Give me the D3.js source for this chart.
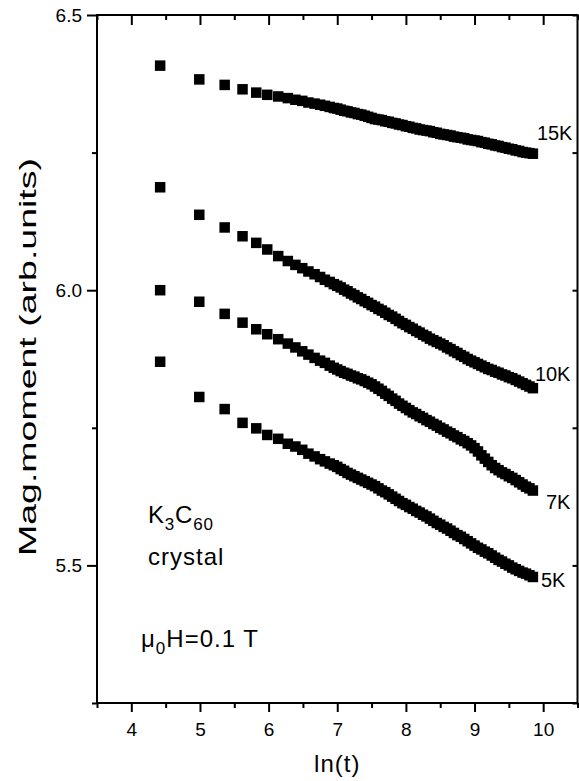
<!DOCTYPE html>
<html>
<head>
<meta charset="utf-8">
<script src="https://cdn.jsdelivr.net/npm/d3@7"></script>
<style>
    body { margin: 0; background: #fff; }
    text { font-family: "Liberation Sans", Arial, Helvetica, sans-serif; fill: #000; }
</style>
</head>
<body>
<svg id="chart" width="579" height="781"></svg>
<script>
// ln(t) of the measurement times, shared by all four temperatures
var lnT = [4.42, 4.99, 5.36, 5.62, 5.82, 5.98, 6.14, 6.28, 6.39, 6.49, 6.58, 6.67, 6.75, 6.82, 6.89, 6.95,
    7.00, 7.05, 7.10, 7.15, 7.20, 7.25, 7.30, 7.35, 7.40, 7.45, 7.50, 7.55, 7.60, 7.65, 7.70, 7.75, 7.80, 7.85, 7.90, 7.95,
    8.00, 8.05, 8.10, 8.15, 8.20, 8.25, 8.30, 8.35, 8.40, 8.45, 8.50, 8.55, 8.60, 8.65, 8.70, 8.75, 8.80, 8.85, 8.90, 8.95,
    9.00, 9.05, 9.10, 9.15, 9.20, 9.25, 9.30, 9.35, 9.40, 9.45, 9.50, 9.55, 9.60, 9.65, 9.70, 9.75, 9.80, 9.85];

var m15K = [6.408, 6.383, 6.373, 6.365, 6.359, 6.355, 6.352, 6.349, 6.346, 6.344, 6.341, 6.339, 6.337, 6.335, 6.333, 6.331,
    6.330, 6.328, 6.326, 6.325, 6.323, 6.322, 6.320, 6.319, 6.317, 6.315, 6.313, 6.311, 6.310, 6.309, 6.307, 6.306, 6.304, 6.303, 6.301, 6.300,
    6.298, 6.297, 6.295, 6.294, 6.292, 6.291, 6.290, 6.289, 6.287, 6.286, 6.284, 6.283, 6.282, 6.281, 6.279, 6.278, 6.277, 6.276, 6.274, 6.273,
    6.272, 6.271, 6.269, 6.268, 6.266, 6.265, 6.263, 6.262, 6.260, 6.259, 6.257, 6.256, 6.254, 6.253, 6.251, 6.250, 6.249, 6.248];

var m10K = [6.187, 6.137, 6.114, 6.098, 6.086, 6.074, 6.062, 6.053, 6.046, 6.040, 6.034, 6.029, 6.024, 6.019, 6.015, 6.011,
    6.008, 6.005, 6.001, 5.998, 5.994, 5.991, 5.987, 5.984, 5.980, 5.977, 5.973, 5.970, 5.966, 5.963, 5.959, 5.955, 5.952, 5.948, 5.944, 5.940,
    5.937, 5.933, 5.930, 5.926, 5.923, 5.919, 5.916, 5.912, 5.909, 5.906, 5.903, 5.900, 5.896, 5.893, 5.889, 5.886, 5.882, 5.879, 5.875, 5.872,
    5.869, 5.866, 5.863, 5.860, 5.857, 5.855, 5.852, 5.850, 5.847, 5.845, 5.842, 5.840, 5.837, 5.834, 5.831, 5.828, 5.825, 5.822];

var m7K = [6.000, 5.979, 5.957, 5.941, 5.929, 5.920, 5.911, 5.903, 5.896, 5.889, 5.883, 5.877, 5.872, 5.868, 5.863, 5.859,
    5.856, 5.853, 5.850, 5.848, 5.845, 5.843, 5.840, 5.838, 5.835, 5.832, 5.829, 5.825, 5.821, 5.817, 5.812, 5.808, 5.803, 5.799, 5.794, 5.790,
    5.786, 5.782, 5.778, 5.775, 5.771, 5.768, 5.764, 5.761, 5.757, 5.754, 5.750, 5.747, 5.743, 5.740, 5.736, 5.733, 5.729, 5.726, 5.722, 5.718,
    5.713, 5.707, 5.700, 5.694, 5.688, 5.682, 5.677, 5.673, 5.669, 5.666, 5.662, 5.659, 5.655, 5.651, 5.647, 5.643, 5.640, 5.636];

var m5K = [5.870, 5.806, 5.784, 5.759, 5.749, 5.737, 5.730, 5.721, 5.716, 5.710, 5.703, 5.698, 5.693, 5.689, 5.685, 5.682,
    5.679, 5.675, 5.672, 5.668, 5.665, 5.662, 5.659, 5.656, 5.653, 5.650, 5.647, 5.644, 5.640, 5.636, 5.633, 5.629, 5.625, 5.621, 5.617, 5.613,
    5.610, 5.606, 5.603, 5.599, 5.596, 5.592, 5.589, 5.585, 5.581, 5.577, 5.574, 5.570, 5.567, 5.563, 5.559, 5.555, 5.552, 5.548, 5.544, 5.540,
    5.536, 5.532, 5.529, 5.525, 5.522, 5.518, 5.514, 5.510, 5.507, 5.503, 5.500, 5.496, 5.493, 5.490, 5.487, 5.485, 5.482, 5.479];

var seriesNames = ["15K", "10K", "7K", "5K"];
var seriesValues = [m15K, m10K, m7K, m5K];

var xTickValues = [4, 5, 6, 7, 8, 9, 10];
var yTickValues = [5.5, 6.0, 6.5];

var margin = {top: 15, right: 1.5, bottom: 78, left: 97};
var width = 579 - margin.left - margin.right,
    height = 781 - margin.top - margin.bottom;

var svg = d3.select("#chart");
var g = svg.append("g")
    .attr("transform", "translate(" + margin.left + "," + margin.top + ")");

var x = d3.scaleLinear().domain([3.5, 10.5]).range([0, width]);
var y = d3.scaleLinear().domain([5.25, 6.5]).range([height, 0]);

var xMinor = d3.range(3.5, 10.51, 0.5).filter(function(d) { return d % 1 !== 0; });
var yMinor = [5.25, 5.75, 6.25];

function styleAxis(sel) {
    sel.select(".domain").remove();
    sel.selectAll("line").attr("stroke", "#000").attr("stroke-width", 2);
    sel.selectAll("text").style("font-size", "19px");
}

// bottom: ticks pointing out
g.append("g")
    .attr("transform", "translate(0," + height + ")")
    .call(d3.axisBottom(x).tickValues(xTickValues).tickFormat(d3.format("d")).tickSize(9).tickPadding(11))
    .call(styleAxis);
g.append("g")
    .attr("transform", "translate(0," + height + ")")
    .call(d3.axisBottom(x).tickValues(xMinor).tickFormat("").tickSize(5))
    .call(styleAxis);

// top: ticks pointing in
g.append("g")
    .call(d3.axisBottom(x).tickValues(xTickValues).tickFormat("").tickSize(10))
    .call(styleAxis);
g.append("g")
    .call(d3.axisBottom(x).tickValues(xMinor).tickFormat("").tickSize(5))
    .call(styleAxis);

// left: ticks pointing out
g.append("g")
    .call(d3.axisLeft(y).tickValues(yTickValues).tickFormat(d3.format(".1f")).tickSize(10).tickPadding(5))
    .call(styleAxis);
g.append("g")
    .call(d3.axisLeft(y).tickValues(yMinor).tickFormat("").tickSize(5))
    .call(styleAxis);

// right: ticks pointing in
g.append("g")
    .attr("transform", "translate(" + width + ",0)")
    .call(d3.axisLeft(y).tickValues(yTickValues.concat(yMinor)).tickFormat("").tickSize(5))
    .call(styleAxis);

g.append("rect")
    .attr("width", width)
    .attr("height", height)
    .attr("fill", "none")
    .attr("stroke", "#000")
    .attr("stroke-width", 2);

// data squares
var sq = 10.5;
var series = g.selectAll("g.series")
    .data(seriesValues)
    .enter().append("g")
    .attr("class", "series");

series.selectAll("rect")
    .data(function(vals) { return vals.map(function(v, i) { return [lnT[i], v]; }); })
    .enter().append("rect")
    .attr("x", function(d) { return x(d[0]) - sq / 2; })
    .attr("y", function(d) { return y(d[1]) - sq / 2; })
    .attr("width", sq)
    .attr("height", sq)
    .attr("fill", "#000");

// temperature labels next to the last point
var labelOffsets = [[4, -14], [2, -7.5], [13, 18], [8, 10]];
g.selectAll("text.temp")
    .data(seriesNames)
    .enter().append("text")
    .attr("class", "temp")
    .attr("x", function(d, i) { return x(lnT[lnT.length - 1]) + labelOffsets[i][0]; })
    .attr("y", function(d, i) { return y(seriesValues[i][lnT.length - 1]) + labelOffsets[i][1]; })
    .style("font-size", "20px")
    .text(function(d) { return d; });

// sample annotations
var note = g.append("text")
    .attr("x", 51)
    .attr("y", 508)
    .style("font-size", "24px")
    .style("letter-spacing", "0.8px");
note.append("tspan").text("K");
note.append("tspan").attr("dy", 7).style("font-size", "17px").text("3");
note.append("tspan").attr("dy", -7).text("C");
note.append("tspan").attr("dy", 7).style("font-size", "17px").text("60");

g.append("text")
    .attr("x", 51)
    .attr("y", 550)
    .style("font-size", "24px")
    .style("letter-spacing", "1px")
    .text("crystal");

var field = g.append("text")
    .attr("x", 44)
    .attr("y", 632)
    .style("font-size", "24px")
    .style("letter-spacing", "1px");
field.append("tspan").text("μ");
field.append("tspan").attr("dy", 7).style("font-size", "17px").text("0");
field.append("tspan").attr("dy", -7).text("H=0.1 T");

// axis titles
g.append("text")
    .attr("x", x(7))
    .attr("y", height + 69)
    .attr("text-anchor", "middle")
    .style("font-size", "24px")
    .style("letter-spacing", "1px")
    .text("ln(t)");

g.append("text")
    .attr("transform", "translate(-61," + (height / 2 - 2) + ") rotate(-90)")
    .attr("text-anchor", "middle")
    .attr("textLength", 398)
    .attr("lengthAdjust", "spacingAndGlyphs")
    .style("font-size", "24px")
    .text("Mag.moment (arb.units)");
</script>
</body>
</html>
